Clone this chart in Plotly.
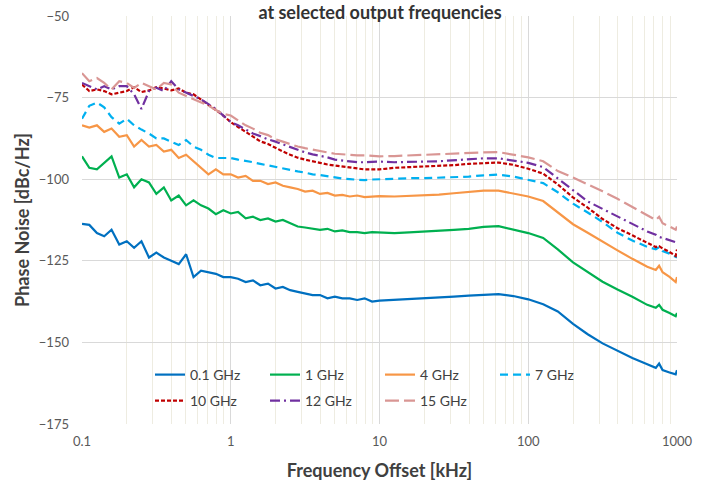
import plotly.graph_objects as go

freq_khz = [0.1, 0.112, 0.126, 0.141, 0.158, 0.178, 0.2, 0.224, 0.251, 0.282,
            0.316, 0.355, 0.398, 0.447, 0.501, 0.562, 0.631, 0.708, 0.794, 0.891,
            1.0, 1.12, 1.26, 1.41, 1.58, 1.78, 2.0, 2.24, 2.51, 2.82,
            3.16, 3.55, 3.98, 4.47, 5.01, 5.62, 6.31, 7.08, 7.94, 8.91,
            10, 12.6, 15.8, 20, 25.1, 31.6, 39.8, 50.1, 63.1, 79.4,
            100, 126, 158, 200, 251, 316, 398, 501, 631,
            720, 758, 800, 891, 980, 1000]

pn_0p1 = [-113.7, -114, -116.5, -117.5, -115.5, -120, -119, -121, -119, -124,
          -122.5, -124, -125, -126, -123, -130, -128, -128.5, -129, -130,
          -130, -130.5, -131.5, -131, -132.5, -132, -133.5, -133, -134, -134.5,
          -135, -135.5, -135.5, -136.5, -136, -136.5, -136.5, -137, -136.5, -137.5,
          -137.2, -137, -136.8, -136.5, -136.2, -136, -135.7, -135.5, -135.2, -135.8,
          -136.8, -138.3, -140.5, -144.3, -147.5, -150.3, -152.5, -154.8, -156.7,
          -157.8, -156.5, -158.5, -159.2, -159.8, -158.5]

pn_1 = [-93, -96.5, -97, -95, -93, -99.5, -98.5, -102.5, -100, -101,
        -104.5, -102.5, -106.5, -105, -108, -106.5, -108, -109, -110.7, -109.5,
        -110.5, -110, -112, -111.5, -112.5, -112, -113, -112.5, -113.5, -114.5,
        -114.8, -115.2, -115.5, -115.2, -116, -115.7, -116.2, -116.2, -116.5, -116.2,
        -116.3, -116.5, -116.3, -116.1, -115.9, -115.5, -115.2, -114.6, -114.4, -115.5,
        -116.5, -118, -121.5, -125.5, -128.5, -131.4, -133.8, -136, -138.5,
        -139.4, -138.5, -140, -141, -142, -141]

pn_4 = [-83.5, -84.2, -83.5, -85.5, -84.5, -87, -86.5, -90, -88, -90,
        -89.5, -91.5, -91, -93.5, -92.5, -94.5, -96.5, -98.5, -97, -98.5,
        -98.5, -99.5, -99, -100.5, -100.5, -101.5, -101, -102, -102.5, -103,
        -103.8, -103.5, -104.5, -104.2, -105, -104.8, -105.3, -105, -105.5, -105.3,
        -105.2, -105.3, -105.1, -105, -104.7, -104.3, -103.9, -103.5, -103.5, -104.3,
        -105.3, -106.7, -110.2, -113.8, -116.4, -119.2, -121.8, -124.4, -126.8,
        -127.8, -126.5, -128.5, -129.9, -131.5, -130]

pn_7 = [-81.5, -77.5, -76.5, -78, -81, -83, -81.5, -83.5, -84.8, -86,
        -87.5, -87.5, -88.5, -89.5, -88, -90, -91, -92.5, -93.5, -93.5,
        -93.5, -94, -94.3, -94.8, -95.3, -95.8, -96.3, -96.8, -97.3, -97.6,
        -98, -98.5, -98.7, -99.1, -99.4, -99.8, -100, -100.2, -100.3, -100.1,
        -100, -99.9, -99.7, -99.7, -99.6, -99.4, -99.2, -98.8, -98.6, -99.2,
        -100.1, -101.2, -104, -107.5, -110.2, -113.1, -116.4, -118.8, -120.7,
        -121.5, -120.8, -122, -122.8, -123.8, -124]

pn_10 = [-71, -73, -72.5, -73, -74, -73.5, -73, -71.8, -73.3, -72.8,
         -71.8, -72.2, -72.8, -72.2, -73.5, -74, -75.6, -77, -78.8, -80.5,
         -82.5, -84, -85.5, -87, -88.4, -89.2, -90.5, -91.5, -92.5, -93.4,
         -94, -94.6, -95, -95.5, -95.8, -96.3, -96.5, -96.8, -97, -97,
         -97, -96.5, -96.3, -96.2, -96, -95.7, -95.3, -95, -94.9, -95.6,
         -96.8, -98.3, -101.6, -105.6, -108.7, -112.2, -115, -117.2, -119.6,
         -120.8, -120.5, -121.2, -122.3, -123.5, -121.5]

pn_12 = [-70.5, -71.5, -72.5, -71.5, -72.5, -71.5, -71.5, -74, -78.5, -73,
         -72, -73, -70, -72.5, -73.5, -74.5, -75.5, -77, -78.5, -80.5,
         -82.5, -83.5, -84.8, -86, -86.8, -87.8, -88.5, -89.3, -90.3, -91,
         -91.8, -92.4, -92.8, -93.3, -94, -94.3, -94.6, -94.8, -94.8, -94.6,
         -94.6, -94.8, -94.8, -94.6, -94.5, -94.2, -93.8, -93.6, -93.6, -94.2,
         -95, -96.3, -99.8, -103.5, -106.8, -109.1, -111.4, -113.7, -116,
         -117, -117.7, -118, -118.8, -119.3, -119.2]

pn_15 = [-67.5, -70, -69, -70.5, -72.5, -70, -70.5, -72, -70.5, -71.5,
         -72.5, -70.5, -71, -73.5, -74.5, -75.5, -76.5, -77.5, -78.8, -80,
         -80.5, -82, -83.5, -84.5, -85.8, -86.5, -87.8, -88.5, -89.3, -90,
         -90.5, -91, -91.5, -91.8, -92.2, -92.4, -92.6, -92.7, -92.7, -92.8,
         -93, -92.9, -92.7, -92.6, -92.4, -92.2, -91.9, -91.8, -91.7, -92.5,
         -93.3, -94.5, -97.5, -99.5, -101.5, -103.7, -106, -108.5, -111.2,
         -112.5, -111.5, -113.5, -114.5, -115.5, -114.5]

series_names = ["0.1 GHz", "1 GHz", "4 GHz", "7 GHz", "10 GHz", "12 GHz", "15 GHz"]
series_values = [pn_0p1, pn_1, pn_4, pn_7, pn_10, pn_12, pn_15]
series_colors = ["#0070C0", "#00B050", "#F79646", "#00B0F0", "#C00000", "#7030A0", "#D99694"]
series_dash = ["solid", "solid", "solid", "8px,5px", "4px,2px", "10px,4px,2px,4px", "14px,5px"]
series_legend = ["legend", "legend", "legend", "legend", "legend2", "legend2", "legend2"]

x_tickvals = [0.1, 1, 10, 100, 1000]
x_ticktext = ["0.1", "1", "10", "100", "1000"]
y_tickvals = [-50, -75, -100, -125, -150, -175]

FONT = "Lato, 'Open Sans', sans-serif"

fig = go.Figure()
for name, vals, col, dash, lg in zip(series_names, series_values, series_colors, series_dash, series_legend):
    fig.add_trace(go.Scatter(x=freq_khz, y=vals, name=name, mode="lines",
                             line=dict(color=col, width=2.2, dash=dash), legend=lg))

W, H = 709, 487
L, R, T, B = 82, 32, 16, 63

def px_x(p):
    return (p - L) / (W - L - R)

def px_y(p):
    return (H - B - p) / (H - T - B)

fig.update_layout(
    width=W, height=H,
    margin=dict(l=L, r=R, t=T, b=B, autoexpand=False),
    paper_bgcolor="white", plot_bgcolor="white",
    font=dict(family=FONT, color="#595959", size=13),
    title=dict(text="<b>at selected output frequencies</b>", x=380 / W, xanchor="center",
               y=1 - 13 / H, yanchor="middle", font=dict(size=18, color="#333333", family=FONT)),
    xaxis=dict(type="log", range=[-1, 3], tickvals=x_tickvals, ticktext=x_ticktext,
               automargin=False,
               showgrid=True, gridcolor="#D9D9D9", gridwidth=1, zeroline=False,
               showline=False, ticks="", ticklabelstandoff=8,
               tickfont=dict(size=13, color="#595959"),
               minor=dict(dtick="D1", showgrid=True, gridcolor="#EEECE1", gridwidth=1, ticks=""),
               title=dict(text="<b>Frequency Offset [kHz]</b>", standoff=16,
                          font=dict(size=18, color="#404040"))),
    yaxis=dict(range=[-175, -50], tickvals=y_tickvals, showgrid=True, gridcolor="#D9D9D9",
               automargin=False,
               gridwidth=1, zeroline=False, showline=False, ticks="", ticklabelstandoff=12,
               tickfont=dict(size=13, color="#595959"),
               title=dict(text="<b>Phase Noise [dBc/Hz]</b>", standoff=4,
                          font=dict(size=18, color="#404040"))),
    legend=dict(orientation="h", x=px_x(150), xanchor="left", y=px_y(375), yanchor="middle",
                bgcolor="rgba(0,0,0,0)", entrywidth=70, entrywidthmode="pixels",
                font=dict(size=14, color="#404040"), itemwidth=30, tracegroupgap=0),
    legend2=dict(orientation="h", x=px_x(150), xanchor="left", y=px_y(401), yanchor="middle",
                 bgcolor="rgba(0,0,0,0)", entrywidth=70, entrywidthmode="pixels",
                 font=dict(size=14, color="#404040"), itemwidth=30, tracegroupgap=0),
    shapes=[dict(type="rect", xref="paper", yref="paper", x0=px_x(145), x1=px_x(590),
                 y0=px_y(417), y1=px_y(359), fillcolor="white", line=dict(width=0),
                 layer="between")],
    showlegend=True,
)

fig.write_html("out.html", config={"displayModeBar": False},
               post_script="document.body.style.margin='0';")
